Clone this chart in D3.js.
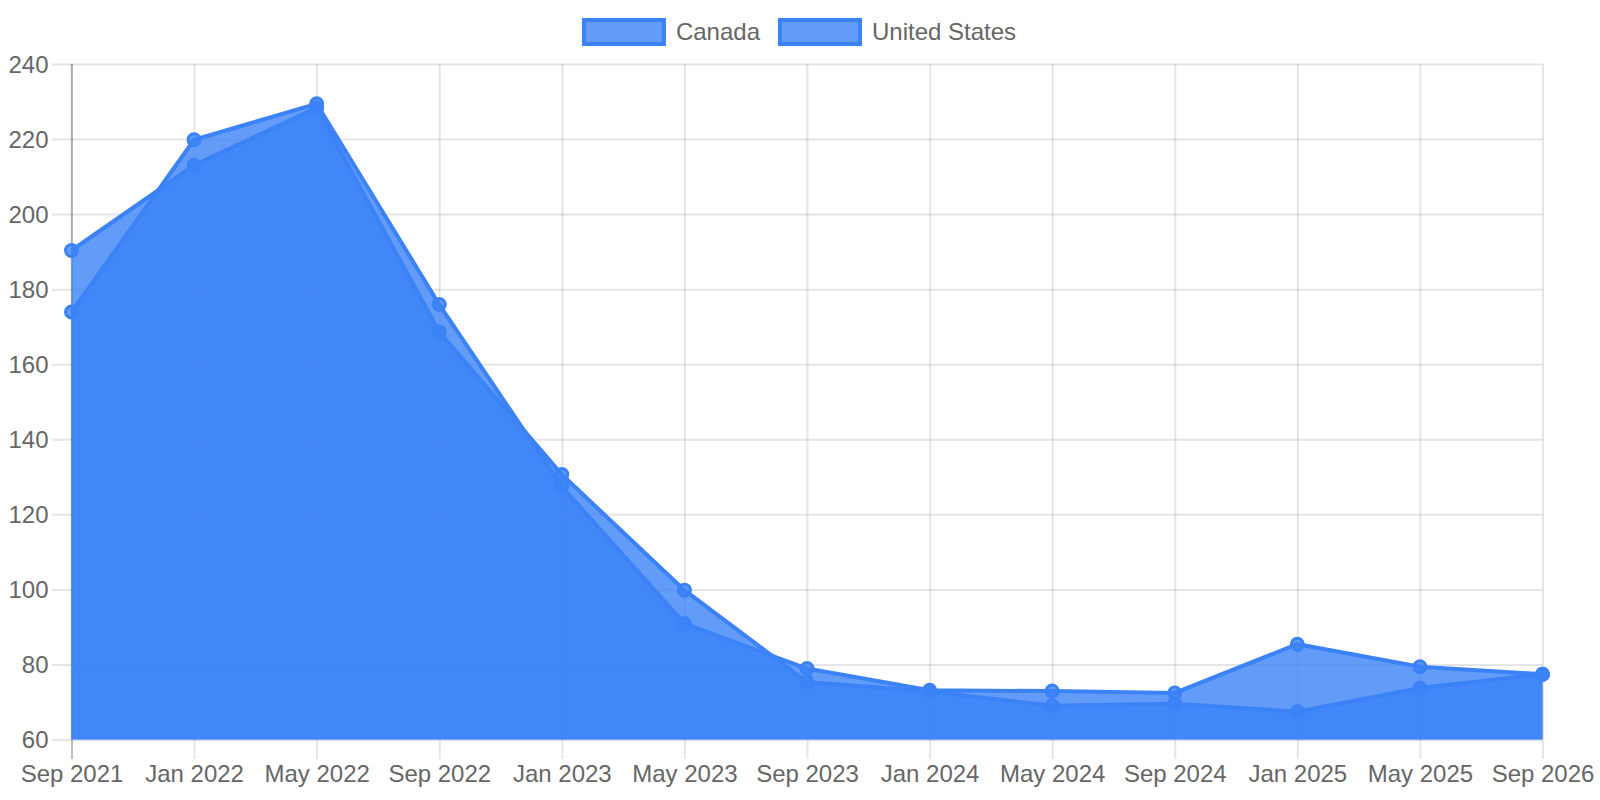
<!DOCTYPE html>
<html>
<head>
<meta charset="utf-8">
<script src="https://cdn.jsdelivr.net/npm/d3@7"></script>
<style>
    html, body { margin: 0; padding: 0; background: #fff; }
    #main { width: 1600px; height: 800px; }
    text { font-family: "Helvetica Neue", Helvetica, Arial, "Liberation Sans", sans-serif; fill: #666; }
</style>
</head>
<body>
<div id="main"></div>
<script>
const months = ["Sep 2021", "Jan 2022", "May 2022", "Sep 2022", "Jan 2023", "May 2023", "Sep 2023",
    "Jan 2024", "May 2024", "Sep 2024", "Jan 2025", "May 2025", "Sep 2026"];
const canada = [190.3, 213.0, 228.3, 168.6, 130.6, 99.8, 75.3, 72.8, 69.0, 69.5, 67.4, 73.7, 77.4];
const unitedStates = [173.9, 219.8, 229.4, 175.9, 127.4, 90.9, 78.9, 73.1, 72.9, 72.4, 85.4, 79.4, 77.4];
const yTicks = [60, 80, 100, 120, 140, 160, 180, 200, 220, 240];
const seriesNames = ["Canada", "United States"];

class AreaChart {
    constructor({ width = 1600, height = 800, margin = { top: 64, right: 57.5, bottom: 60.5, left: 71.5 } } = {}) {
        this.w = width;
        this.h = height;
        this.margin = margin;
        this.stroke = "#3b82f6";
        this.fill = "rgba(59,130,246,0.8)";
    }

    createSvg(selector) {
        this.svg = d3.select(selector)
            .append("svg")
            .attr("width", this.w)
            .attr("height", this.h);
    }

    drawChart() {
        const left = this.margin.left;
        const right = this.w - this.margin.right;
        const top = this.margin.top;
        const bottom = this.h - this.margin.bottom;

        const x = d3.scalePoint().domain(months).range([left, right]);
        const y = d3.scaleLinear().domain([60, 240]).range([bottom, top]);

        // horizontal grid + y labels
        const yAxis = this.svg.append("g")
            .attr("transform", `translate(${right},0)`)
            .call(d3.axisLeft(y).tickValues(yTicks).tickSize(right - 52).tickPadding(3.5));
        yAxis.select(".domain").remove();
        yAxis.selectAll("line").attr("stroke", "rgba(0,0,0,0.1)").attr("stroke-width", 2);
        yAxis.selectAll("text")
            .style("font-size", "24px")
            .attr("fill", "#666")
            .attr("dy", "0.34em");

        // vertical grid + x labels
        const xAxis = this.svg.append("g")
            .attr("transform", `translate(0,${top})`)
            .call(d3.axisBottom(x).tickSize(bottom - top + 19.5).tickPadding(6));
        xAxis.select(".domain").remove();
        xAxis.selectAll("line")
            .attr("stroke", (d, i) => i === 0 ? "rgba(0,0,0,0.25)" : "rgba(0,0,0,0.1)")
            .attr("stroke-width", 2);
        xAxis.selectAll("text")
            .style("font-size", "24px")
            .attr("fill", "#666");

        // y axis border
        this.svg.append("line")
            .attr("x1", x(months[0])).attr("x2", x(months[0]))
            .attr("y1", y(240)).attr("y2", y(60))
            .attr("stroke", "rgba(0,0,0,0.1)")
            .attr("stroke-width", 2);

        const area = d3.area()
            .x((d, i) => x(months[i]))
            .y0(y(60))
            .y1(d => y(d));
        const line = d3.line()
            .x((d, i) => x(months[i]))
            .y(d => y(d));

        // Chart.js order: last dataset first
        [unitedStates, canada].forEach(values => {
            const g = this.svg.append("g");
            g.append("path")
                .attr("d", area(values))
                .attr("fill", this.fill);
            g.append("path")
                .attr("d", line(values))
                .attr("fill", "none")
                .attr("stroke", this.stroke)
                .attr("stroke-width", 4)
                .attr("stroke-linejoin", "miter");
            g.selectAll("circle")
                .data(values)
                .join("circle")
                .attr("cx", (d, i) => x(months[i]))
                .attr("cy", d => y(d))
                .attr("r", 6)
                .attr("fill", this.fill)
                .attr("stroke", this.stroke)
                .attr("stroke-width", 3);
        });

        // legend
        const legend = this.svg.append("g");
        let pos = 0;
        seriesNames.forEach(name => {
            const item = legend.append("g").attr("transform", `translate(${pos},0)`);
            item.append("rect")
                .attr("x", 0).attr("y", 20)
                .attr("width", 80).attr("height", 24)
                .attr("fill", this.fill)
                .attr("stroke", this.stroke)
                .attr("stroke-width", 4);
            const t = item.append("text")
                .attr("x", 92).attr("y", 32)
                .attr("dy", "0.35em")
                .style("font-size", "24px")
                .text(name);
            pos += 92 + t.node().getComputedTextLength() + 20;
        });
        const total = pos - 20;
        legend.attr("transform", `translate(${(this.w - total) / 2},0)`);
    }

    run(selector) {
        this.createSvg(selector);
        this.drawChart();
    }
}

window.onload = () => {
    const chart = new AreaChart({ width: 1600, height: 800 });
    chart.run("#main");
};
</script>
</body>
</html>
